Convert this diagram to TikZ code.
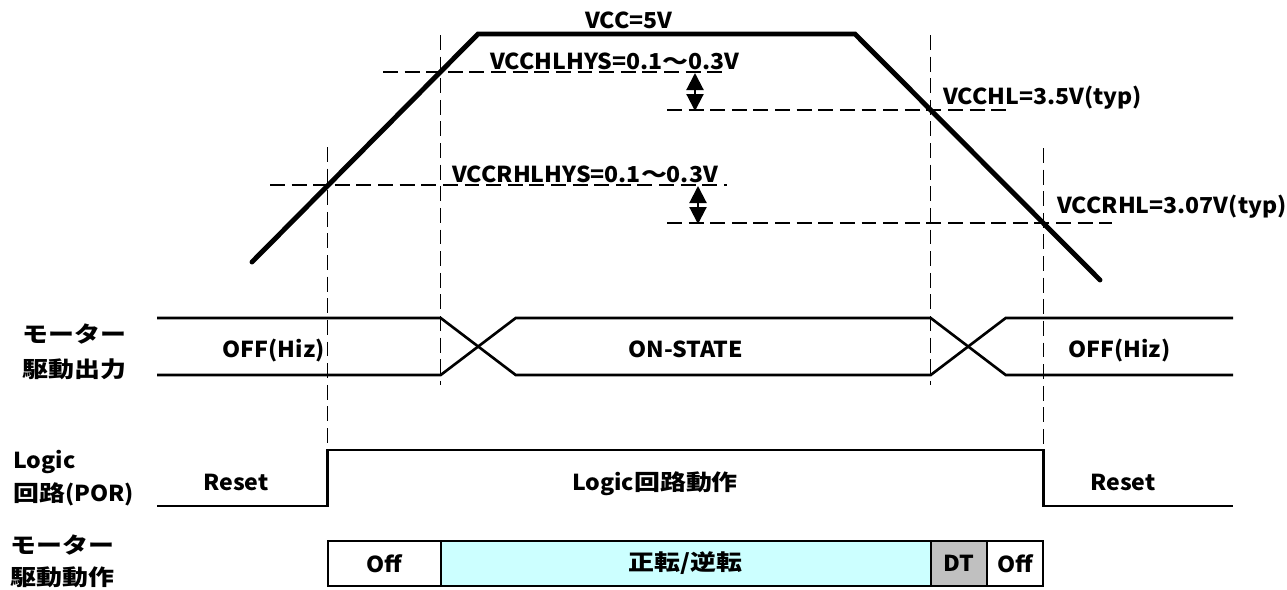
\documentclass[tikz,border=0pt]{standalone}
\usepackage{fontspec}
\setmainfont{Noto Sans CJK JP}[FakeStretch=1.05]
\newfontfamily\jpfont{Noto Sans CJK JP}[FakeStretch=1.18]
\usepackage{xcolor}
\definecolor{lcyan}{RGB}{204,255,255}
\definecolor{dtgray}{RGB}{192,192,192}
\usetikzlibrary{arrows.meta, positioning}

\begin{document}
\begin{tikzpicture}[x=0.2mm, y=-0.2mm,
  font=\fontsize{12.5}{15}\selectfont\bfseries,
  vcc/.style={line width=2.8pt, line cap=round, line join=miter},
  sig/.style={line width=1.5pt},
  guide/.style={line width=0.75pt, dash pattern=on 8.5pt off 3.8pt},
  hysarr/.style={{Triangle[width=3.4mm,length=3.4mm]}-{Triangle[width=3.4mm,length=3.4mm]},
                 line width=1.2pt},
  lbl/.style={inner sep=0pt},
  cell/.style={draw, line width=1pt, inner sep=0pt, outer sep=0pt, minimum height=9.06mm}
]
  \useasboundingbox (0,0) rectangle (1287,589);

  % ── Guide lines ──
  \draw[guide] (383,72)    -- (724,72);
  \draw[guide] (270,185)   -- (727,185);
  \draw[guide] (667,110)   -- (1007,110);
  \draw[guide] (667,223)   -- (1112,223);
  \draw[guide] (327.7,147) -- (327.7,450);
  \draw[guide] (440.7,35)  -- (440.7,385);
  \draw[guide] (930.7,35)  -- (930.7,385);
  \draw[guide] (1043.3,148) -- (1043.3,450);

  % ── VCC waveform ──
  \draw[vcc] (252,262) -- (478,34) -- (855,34) -- (1100,280);

  % ── Threshold labels ──
  \node[lbl, anchor=base west] (vccmax) at (585,28)   {VCC=5V};
  \node[lbl, anchor=base west] (hyshl)  at (490,69)   {VCCHLHYS=0.1{\jpfont ～}0.3V};
  \node[lbl, anchor=base west] (hysrhl) at (452,182)  {VCCRHLHYS=0.1{\jpfont ～}0.3V};
  \node[lbl, anchor=base west] (vcchl)  at (943,104)  {VCCHL=3.5V(typ)};
  \node[lbl, anchor=base west] (vccrhl) at (1057,213) {VCCRHL=3.07V(typ)};

  \coordinate (hA1) at (695,73);  \coordinate (hA2) at (695,111);
  \coordinate (hB1) at (698,186); \coordinate (hB2) at (698,224);
  \draw[hysarr] (hA1) -- (hA2);
  \draw[hysarr] (hB1) -- (hB2);

  % ── Motor output bus ──
  \draw[sig] (157,318) -- (440.7,318) -- (515.7,375) -- (930.7,375) -- (1005.7,318) -- (1233,318);
  \draw[sig] (157,375) -- (440.7,375) -- (515.7,318) -- (930.7,318) -- (1005.7,375) -- (1233,375);
  \node[lbl, anchor=base east] (offl) at (325,357)  {OFF(Hiz)};
  \node[lbl, anchor=base]      (onst) at (686,357)  {ON-STATE};
  \node[lbl, anchor=base west] (offr) at (1068,357) {OFF(Hiz)};

  % ── Logic (POR) ──
  \draw[sig] (157,506) -- (327.7,506) -- (327.7,450) -- (1043.3,450) -- (1043.3,506) -- (1233,506);
  \node[lbl, anchor=base] (rstl)  at (236,490)  {Reset};
  \node[lbl, anchor=base] (logic) at (655,490)  {Logic{\jpfont 回路動作}};
  \node[lbl, anchor=base] (rstr)  at (1123,490) {Reset};

  % ── Motor drive operation ──
  \node[cell, minimum width=22.6mm] (off1) at (384.2,563.35) {Off};
  \node[cell, fill=lcyan,  minimum width=98mm,    right=0pt of off1]   (fwdrev) {\jpfont 正転/逆転};
  \node[cell, fill=dtgray, minimum width=11.2mm,  right=0pt of fwdrev] (dt)     {DT};
  \node[cell,              minimum width=11.32mm, right=0pt of dt]     (off2)   {Off};

  % ── Row titles ──
  \node[lbl, anchor=west]      (mot1) at (22,334) {\jpfont モーター};
  \node[lbl, anchor=west]      (drv1) at (22,369) {\jpfont 駆動出力};
  \node[lbl, anchor=base west] (lg)   at (13,468) {Logic};
  \node[lbl, anchor=west]      (por)  at (13,494) {{\jpfont 回路}(POR)};
  \node[lbl, anchor=west]      (mot2) at (10,545) {\jpfont モーター};
  \node[lbl, anchor=west]      (drv2) at (10,577) {\jpfont 駆動動作};

\end{tikzpicture}
\end{document}
